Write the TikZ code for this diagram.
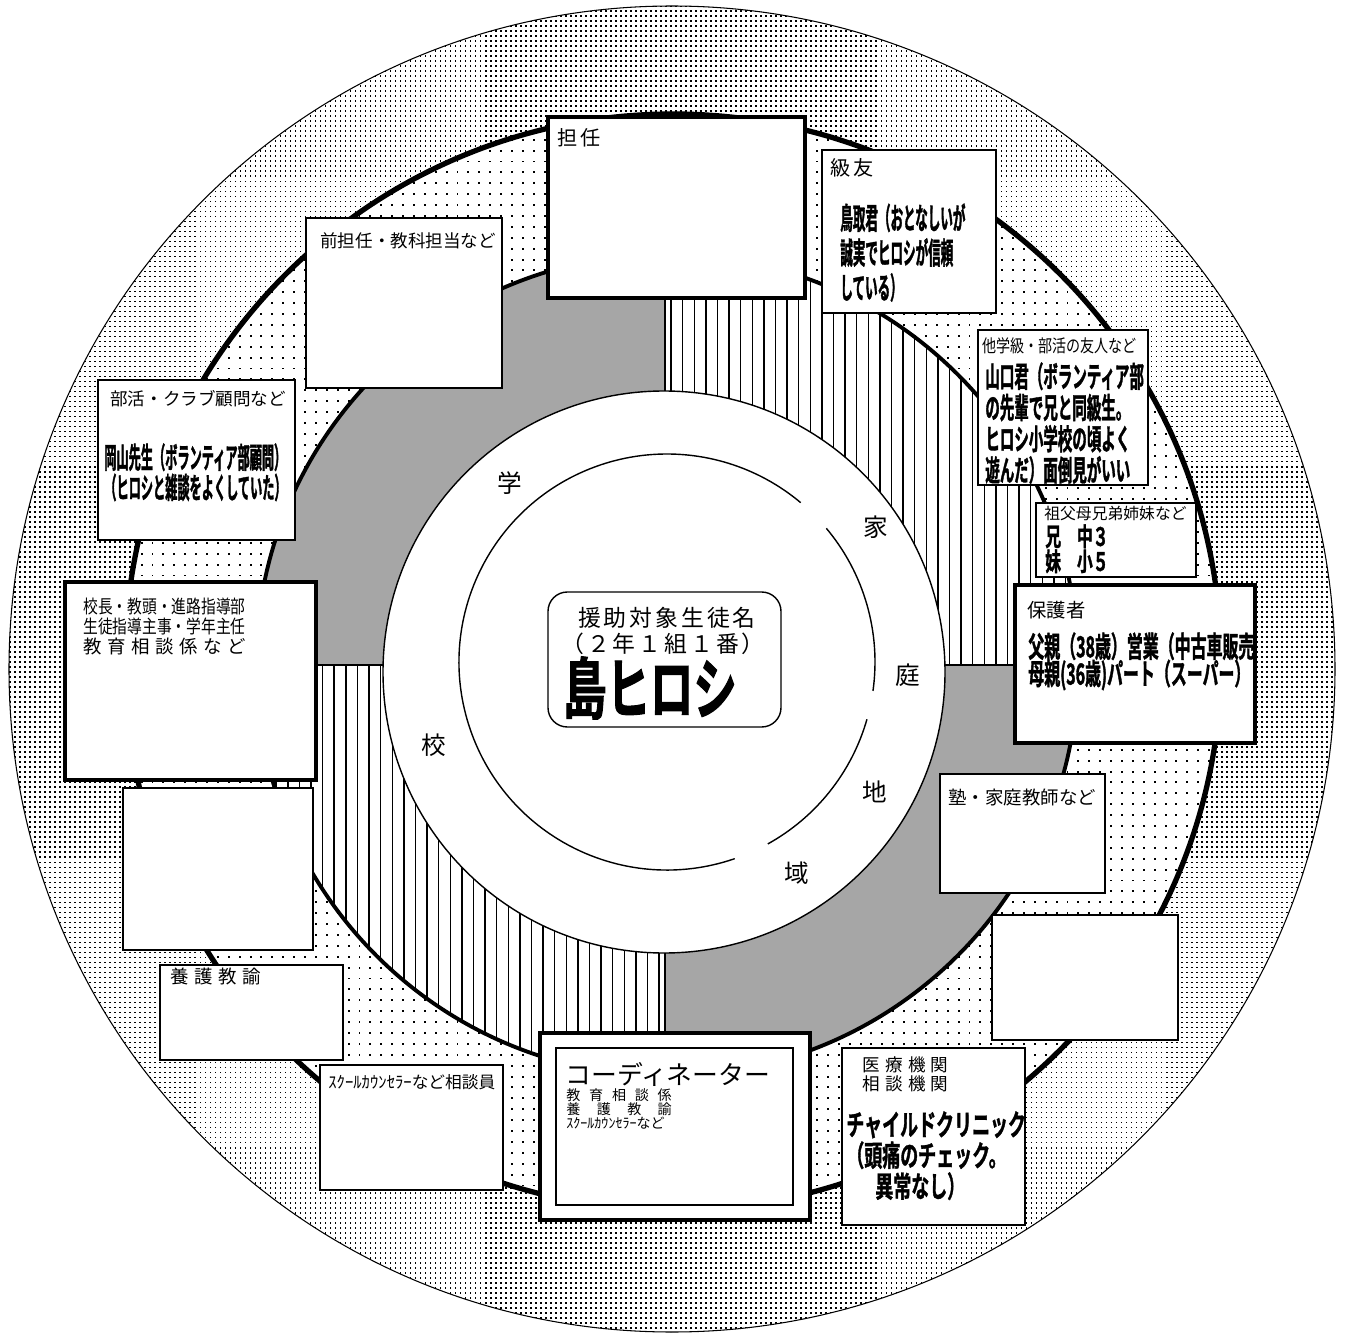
\documentclass[tikz,border=0pt]{standalone}
\usepackage{fontspec}
\newfontfamily\jp{Noto Sans CJK JP}
\newfontfamily\jpn[FakeStretch=0.8]{Noto Sans CJK JP}
\newfontfamily\jpsp[LetterSpace=30]{Noto Sans CJK JP}
\newfontfamily\jpsq[LetterSpace=13]{Noto Sans CJK JP}
\newfontfamily\jpba[FakeStretch=0.42, FakeBold=1.2]{Noto Sans CJK JP Bold}
\newfontfamily\jpbb[FakeStretch=0.5, FakeBold=1.2]{Noto Sans CJK JP Bold}
\newfontfamily\jpbd[FakeStretch=0.55, FakeBold=1.2]{Noto Sans CJK JP Bold}
\newfontfamily\jpbc[FakeStretch=0.62, FakeBold=1.2]{Noto Sans CJK JP Bold}
\newfontfamily\jpbx[FakeStretch=0.65, FakeBold=1.5]{Noto Sans CJK JP Bold}
\usetikzlibrary{patterns.meta}
\lineskiplimit=-30pt

% halftone dots of the two outer rings
\tikzdeclarepattern{
  name=finedots,
  type=uncolored,
  bottom left={(-1.425pt,-1.425pt)},
  top right={(1.425pt,1.425pt)},
  tile size={(2.85pt,2.85pt)},
  code={\fill (-0.45pt,-0.45pt) rectangle (0.45pt,0.45pt);}
}
\tikzdeclarepattern{
  name=sparsedots,
  type=uncolored,
  bottom left={(-3.1pt,-3.1pt)},
  top right={(3.1pt,3.1pt)},
  tile size={(6.2pt,6.2pt)},
  code={\fill (-0.55pt,-0.55pt) rectangle (0.55pt,0.55pt);}
}

\begin{document}
\begin{tikzpicture}[x=0.02cm, y=-0.02cm,
  box/.style={draw, fill=white, line width=0.9pt},
  bigbox/.style={draw, fill=white, line width=2.6pt},
  stripe/.style={line width=0.8pt},
  head/.style={anchor=north west, inner sep=0pt, align=left},
  body/.style={anchor=north west, inner sep=0pt, align=left},
  ringlabel/.style={inner sep=0pt, font=\jp\fontsize{14}{14}\selectfont}]

  \useasboundingbox (0,0) rectangle (1350,1338);
  \coordinate (o1) at (672,669);
  \coordinate (o2) at (673,662);
  \coordinate (o3) at (667,665);
  \coordinate (o4) at (664,672);
  \coordinate (o5) at (667,662);

  % rings
  \fill[white] (o1) circle (663);
  \fill[pattern=finedots] (o1) circle (663);
  \draw[line width=0.6pt] (o1) circle (663);
  \fill[white] (o2) circle (548);
  \fill[pattern=sparsedots] (o2) circle (548);

  \begin{scope}
    \clip (o3) circle (411);
    \fill[white] (o3) circle (411);
    \fill[black!35] (200,200) rectangle (665,665);
    \fill[black!35] (665,665) rectangle (1130,1130);
    \foreach \x in {671,682.6,...,1080}
      \draw[stripe] (\x,240) -- (\x,665);
    \foreach \x in {659,647.4,...,250}
      \draw[stripe] (\x,665) -- (\x,1090);
    \draw[line width=0.8pt] (665,240) -- (665,1090) (240,665) -- (1090,665);
  \end{scope}
  \draw[line width=2.2pt] (o3) circle (411);
  \draw[line width=3pt] (o2) circle (548);
  \fill[white] (o4) circle (281);
  \draw[line width=0.8pt] (o4) circle (281);

  \draw[line width=0.8pt] (o5) ++(71:208) arc (71:310:208);
  \draw[line width=0.8pt] (o5) ++(-40:208) arc (-40:8:208);
  \draw[line width=0.8pt] (o5) ++(16:208) arc (16:61:208);

  \node[ringlabel] (gaku) at (510,483) {学};
  \node[ringlabel] (kou) at (434,745) {校};
  \node[ringlabel] (ka) at (876,527) {家};
  \node[ringlabel] (tei) at (908,675) {庭};
  \node[ringlabel] (chi) at (875,792) {地};
  \node[ringlabel] (iki) at (797,873) {域};

  % student
  \draw[line width=0.8pt, rounded corners=11pt] (548,592) rectangle (781,727);
  \node[font=\jpsq\fontsize{13}{13}\selectfont] (taisho) at (667,618) {援助対象生徒名};
  \node[font=\jpsq\fontsize{13}{13}\selectfont] (kumi) at (663,644) {（２年１組１番）};
  \node[font=\jpbx\fontsize{38}{38}\selectfont] (name) at (650,688) {島ヒロシ};

  % boxes
  \draw[bigbox] (548,117) rectangle (805,298);
  \node[head, font=\jpsq\fontsize{11.5}{12}\selectfont] (tannin) at (557,128) {担任};

  \draw[box] (822,150) rectangle (996,313);
  \node[head, font=\jpsq\fontsize{11.5}{12}\selectfont] (kyuyu) at (830,158) {級友};
  \node[body, font=\jpba\fontsize{17}{19.8}\selectfont] (kyuyuBody) at (840,203)
    {鳥取君（おとなしいが\\誠実でヒロシが信頼\\している）};

  \draw[box] (306,218) rectangle (502,388);
  \node[head, font=\jp\fontsize{10}{12}\selectfont] (zentannin) at (320,232) {前担任・教科担当など};

  \draw[box] (978,330) rectangle (1148,485);
  \node[head, font=\jpn\fontsize{10}{12}\selectfont] (tagakkyu) at (982,337) {他学級・部活の友人など};
  \node[body, font=\jpbb\fontsize{16.5}{17.8}\selectfont] (tagakkyuBody) at (985,362)
    {山口君（ボランティア部\\の先輩で兄と同級生。\\ヒロシ小学校の頃よく\\遊んだ）面倒見がいい};

  \draw[box] (98,380) rectangle (295,540);
  \node[head, font=\jp\fontsize{10}{12}\selectfont] (bukatsu) at (110,390) {部活・クラブ顧問など};
  \node[body, font=\jpba\fontsize{16.5}{17.2}\selectfont] (bukatsuBody) at (104,443)
    {岡山先生（ボランティア部顧問）\\（ヒロシと雑談をよくしていた）};

  \draw[box] (1036,503) rectangle (1196,577);
  \node[head, font=\jp\fontsize{9}{10}\selectfont] (sofubo) at (1044,506) {祖父母兄弟姉妹など};
  \node[body, font=\jpbc\fontsize{14.5}{14.2}\selectfont] (sofuboBody) at (1045,524)
    {兄　中３\\妹　小５};

  \draw[bigbox] (1015,585) rectangle (1255,743);
  \node[head, font=\jp\fontsize{11}{12}\selectfont] (hogosha) at (1027,601) {保護者};
  \node[body, font=\jpbd\fontsize{16.5}{15.5}\selectfont] (hogoshaBody) at (1028,632)
    {父親（38歳）営業（中古車販売\\母親(36歳)パート（スーパー）};

  \draw[bigbox] (65,582) rectangle (316,780);
  \node[head, font=\jpn\fontsize{10.5}{11.3}\selectfont] (kocho) at (83,598)
    {校長・教頭・進路指導部\\生徒指導主事・学年主任\\{\jpsp 教育相談係など}};

  \draw[box] (123,788) rectangle (313,950);

  \draw[box] (940,774) rectangle (1105,893);
  \node[head, font=\jp\fontsize{10.5}{12}\selectfont] (juku) at (948,789) {塾・家庭教師など};

  \draw[box] (992,915) rectangle (1178,1040);

  \draw[box] (160,965) rectangle (343,1060);
  \node[head, font=\jpsp\fontsize{10.5}{12}\selectfont] (yogo) at (170,968) {養護教諭};

  \draw[box] (320,1065) rectangle (503,1190);
  \node[head, font=\jp\fontsize{9.5}{12}\selectfont] (counselor) at (328,1074) {ｽｸｰﾙｶｳﾝｾﾗｰなど相談員};

  \draw[bigbox] (540,1033) rectangle (810,1220);
  \draw[line width=0.9pt] (556,1048) rectangle (793,1205);
  \node[head, font=\jp\fontsize{14.7}{15}\selectfont] (coord) at (565,1062) {コーディネーター};
  \node[head, font=\jp\fontsize{8}{8.2}\selectfont] (coordBody) at (566,1088)
    {\makebox[60pt][s]{教\hfill 育\hfill 相\hfill 談\hfill 係}\\
     \makebox[60pt][s]{養\hfill 護\hfill 教\hfill 諭}\\
     ｽｸｰﾙｶｳﾝｾﾗｰなど};

  \draw[box] (842,1048) rectangle (1025,1225);
  \node[head, font=\jpsp\fontsize{10}{11.3}\selectfont] (iryo) at (862,1056) {医療機関\\相談機関};
  \node[body, font=\jpbc\fontsize{16.5}{17.6}\selectfont] (iryoBody) at (846,1111)
    {チャイルドクリニック\\（頭痛のチェック。\\\hspace*{1em}異常なし）};
\end{tikzpicture}
\end{document}
